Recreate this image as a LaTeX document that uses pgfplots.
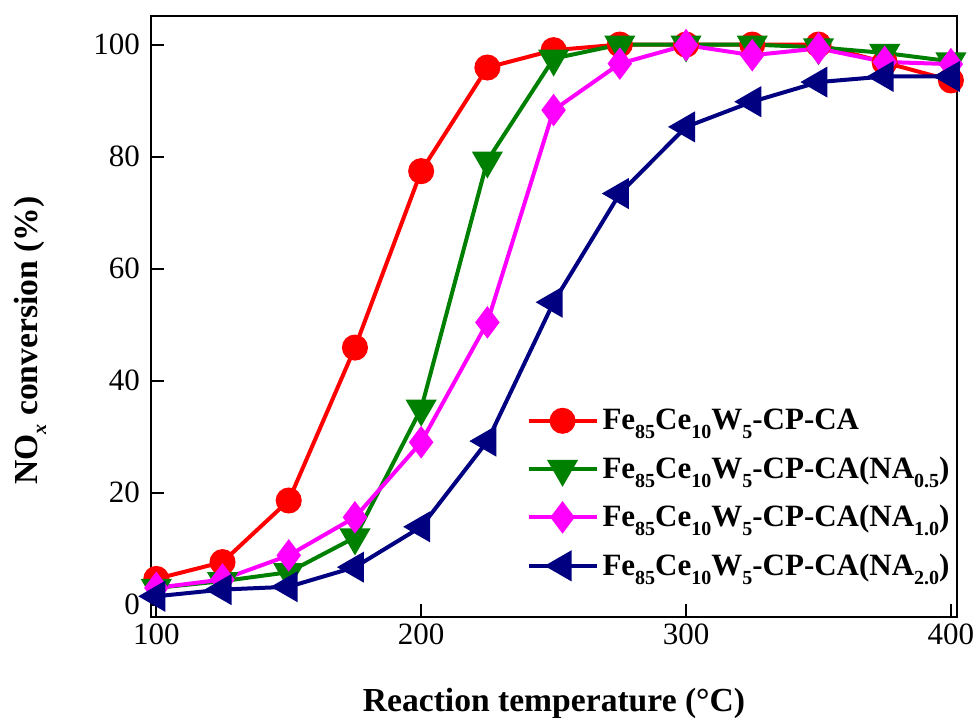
\documentclass[border=0pt]{standalone}
\usepackage{fontspec}
\setmainfont{Liberation Serif}
\usepackage{pgfplots}
\pgfplotsset{compat=1.18}
\definecolor{cred}{RGB}{255,0,0}
\definecolor{cgreen}{RGB}{0,128,0}
\definecolor{cmag}{RGB}{255,0,255}
\definecolor{cnavy}{RGB}{0,0,128}
\newcommand{\fz}{\fontsize{15.5}{18}\selectfont}
\newcommand{\fl}{\fontsize{16.8}{20}\selectfont}
\newcommand{\sub}[1]{\raisebox{-4.5pt}{\fontsize{10}{12}\selectfont #1}}
\begin{document}
\begin{tikzpicture}
\begin{axis}[
    scale only axis,
    width=403pt, height=300.5pt,
    xmin=98, xmax=402.3, ymin=-2.2, ymax=105.1,
    xtick={100,200,300,400},
    ytick={0,20,40,60,80,100},
    tick align=inside,
    xtick pos=bottom, ytick pos=left,
    major tick length=6.5pt,
    axis line style={line width=1pt},
    every tick/.style={line width=1pt, black},
    /pgf/number format/assume math mode=true,
    tick label style={font=\fz},
    yticklabel style={xshift=-2pt},
    label style={font=\fl\bfseries},
    xlabel={Reaction temperature (°C)},
    ylabel={NO\sub{\textit{x}} conversion (\%)},
    xlabel style={at={([yshift=-43pt]axis description cs:0.5,0)}, anchor=center},
    ylabel style={at={([xshift=-60.5pt]axis description cs:0,0.46)}, anchor=center},
    legend style={at={(0.458,0.36)}, anchor=north west, draw=none, fill=none,
                  font=\fz\bfseries, row sep=8pt},
    legend cell align=left,
    legend image code/.code={
        \draw[mark repeat=2, mark phase=2] plot coordinates {(0pt,0pt) (17pt,0pt) (34pt,0pt)};
    },
    every axis plot/.append style={line width=2pt},
]

% Fe85Ce10W5-CP-CA
\addplot[color=cred, mark=*, mark size=5.5pt, mark options={solid}] coordinates {
    (100,4.6) (125,7.6) (150,18.6) (175,45.9) (200,77.4) (225,95.9) (250,99.0)
    (275,100) (300,100) (325,100) (350,100) (375,96.8) (400,93.6)
};
\addlegendentry{Fe\sub{85}Ce\sub{10}W\sub{5}-CP-CA}

% NA0.5
\addplot[color=cgreen, mark=triangle*, mark size=7pt, mark options={rotate=180}] coordinates {
    (100,3.0) (125,4.2) (150,5.8) (175,12.0) (200,35.0) (225,79.3) (250,97.5)
    (275,100) (300,100) (325,100) (350,99.5) (375,98.5) (400,97.0)
};
\addlegendentry{Fe\sub{85}Ce\sub{10}W\sub{5}-CP-CA(NA\sub{0.5})}

% NA1.0
\addplot[color=cmag, mark=diamond*, mark size=6.5pt] coordinates {
    (100,3.0) (125,4.5) (150,8.8) (175,15.6) (200,29.0) (225,50.4) (250,88.3)
    (275,96.6) (300,99.9) (325,98.1) (350,99.3) (375,96.9) (400,96.5)
};
\addlegendentry{Fe\sub{85}Ce\sub{10}W\sub{5}-CP-CA(NA\sub{1.0})}

% NA2.0
\addplot[color=cnavy, mark=triangle*, mark size=7pt, mark options={rotate=90}] coordinates {
    (100,1.5) (125,2.7) (150,3.2) (175,6.7) (200,13.9) (225,29.2) (250,54.0)
    (275,73.4) (300,85.3) (325,89.8) (350,93.3) (375,94.3) (400,94.3)
};
\addlegendentry{Fe\sub{85}Ce\sub{10}W\sub{5}-CP-CA(NA\sub{2.0})}

\end{axis}
\pgfresetboundingbox
\path[use as bounding box] ([shift={(-75.5pt,-50pt)}]current axis.south west)
    rectangle ([shift={(11pt,8pt)}]current axis.north east);
\end{tikzpicture}
\end{document}
